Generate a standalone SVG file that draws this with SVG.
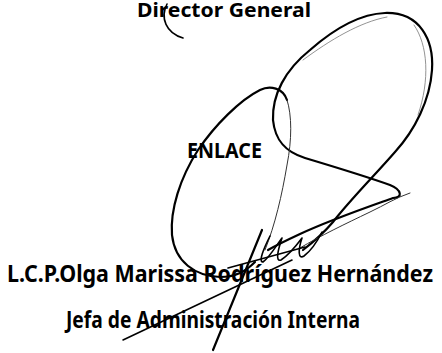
<svg xmlns="http://www.w3.org/2000/svg" width="442" height="353" viewBox="0 0 442 353">
<style>
.t{font-family:"Noto Sans","Open Sans","Liberation Sans",sans-serif;font-weight:bold;fill:#000}
.s{fill:none;stroke:#000;stroke-linecap:round;stroke-linejoin:round}
.thick{stroke-width:2.2}
.med{stroke-width:1.6}
.thin{stroke-width:1;stroke:#333}
.faint{stroke-width:0.8;stroke:#777}
</style>
<rect width="442" height="353" fill="#fff"/>
<g id="text">
<text class="t" x="137" y="17" font-size="20" textLength="174" lengthAdjust="spacingAndGlyphs">Director General</text>
<text class="t" x="187" y="158" font-size="21" textLength="75" lengthAdjust="spacingAndGlyphs">ENLACE</text>
<text class="t" x="7" y="282" font-size="24" textLength="426" lengthAdjust="spacingAndGlyphs">L.C.P.Olga Marissa Rodríguez Hernández</text>
<text class="t" x="66" y="328" font-size="24" textLength="294" lengthAdjust="spacingAndGlyphs">Jefa de Administración Interna</text>
</g>
<g id="signature">
<path class="s med" d="M167,4 C160,18 166,33 183,38"/>
<path class="s thick" d="M273,120 C272,95 285,70 310,50 C335,28 360,14 385,13 C420,12 434,40 432,70 C430,100 415,130 395,152 C375,175 350,200 333,222 C322,235 312,243 303,250"/>
<path class="s faint" d="M303,60 C330,40 360,22 387,17"/>
<path class="s faint" d="M414,25 C428,45 430,80 418,115"/>
<path class="s thick" d="M273,120 C275,140 285,152 305,158 C335,167 365,176 390,185 C402,190 403,198 393,198 C365,208 330,220 300,234 C285,241 275,246 268,250"/>
<path class="s thin" d="M410,193 C395,198 385,205 370,212 C345,224 320,236 300,248"/>
<path class="s thick" d="M287,100 C283,88 270,85 260,90 C240,100 215,125 198,150 C180,178 170,210 172,235 C175,262 195,276 220,277 C235,277 245,272 255,262"/>
<path class="s thin" d="M287,100 C292,115 292,140 287,165 C282,195 275,225 265,250"/>
<path class="s thick" d="M262,230 L213,350"/>
<path class="s med" d="M292,260 L123,340"/>
<path class="s med" d="M228,268 L305,247"/>
<path class="s med" d="M270,236 C264,248 258,262 263,262 C269,258 276,246 282,238 C278,250 275,262 281,260 C289,255 296,246 302,238 C298,250 298,260 304,256 C312,250 318,240 322,232"/>
</g>
</svg>
